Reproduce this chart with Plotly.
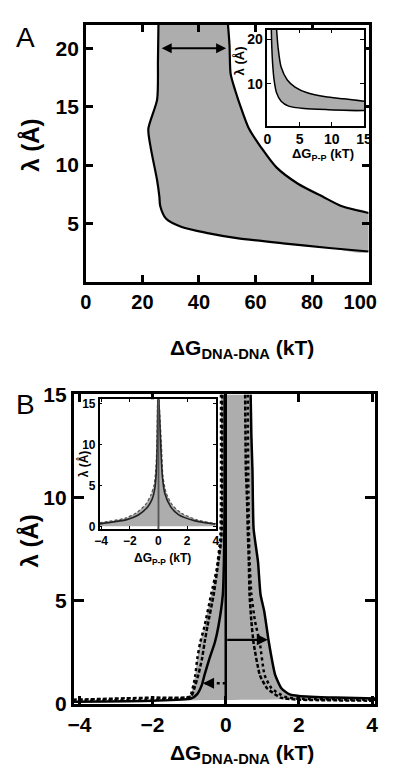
import plotly.graph_objects as go

W, H = 411, 783          # browser window
PAD = 8                  # default body margin of the page
FW, FH = W - 2 * PAD - 2, H - 2 * PAD - 2   # keep the page strictly inside the window
FONT = "Liberation Sans"

# ---------------- Panel A (main): boundaries of the gray region ----------------
a_left_dg = [25.7, 25.5, 25.2, 22.1, 23.0, 25.2, 26.0, 26.3, 28.4, 33.9, 42.6, 53.4, 69.7, 86.0, 100.0]
a_left_lam = [22.5, 19.0, 15.6, 13.1, 11.4, 8.7, 7.3, 6.5, 5.4, 4.7, 4.2, 3.75, 3.3, 2.9, 2.6]
a_right_dg = [50.1, 50.8, 51.2, 52.8, 55.0, 57.7, 62.0, 67.4, 75.0, 83.7, 90.3, 100.0]
a_right_lam = [22.5, 20.3, 17.8, 16.4, 14.8, 13.1, 11.5, 9.8, 8.4, 7.3, 6.5, 5.9]
a_arrow_lam = 20.0
a_arrow_dg = [26.3, 49.6]
a_xticks = [0, 20, 40, 60, 80, 100]
a_xticktext = ["0", "20", "40", "60", "80", "100\u00a0\u00a0\u00a0"]

# ---------------- Panel A (inset) ----------------
ai_upper_dg = [1.43, 1.67, 2.14, 3.1, 4.3, 6.2, 9.05, 11.9, 15.0]
ai_upper_lam = [22.5, 18.2, 13.8, 10.9, 9.3, 8.0, 7.1, 6.65, 6.1]
ai_lower_dg = [0.62, 0.7, 0.86, 1.05, 1.43, 2.14, 3.3, 5.7, 9.5, 15.0]
ai_lower_lam = [22.5, 18.2, 13.8, 10.9, 8.0, 6.1, 5.0, 4.46, 4.2, 4.0]

# ---------------- Panel B (main) ----------------
b_lsolid_dg = [-0.03, -0.03, -0.05, -0.08, -0.2, -0.3, -0.45, -0.58, -0.65, -0.78, -0.95, -2.0, -4.15]
b_lsolid_lam = [15.0, 10.0, 6.9, 5.3, 3.76, 2.96, 2.17, 1.4, 0.93, 0.47, 0.25, 0.15, 0.1]
b_ldash_dg = [-0.1, -0.1, -0.12, -0.2, -0.33, -0.5, -0.58, -0.65, -0.75, -0.85, -0.95, -2.0, -4.15]
b_ldash_lam = [15.0, 10.0, 8.0, 6.9, 5.3, 3.76, 2.96, 2.17, 1.4, 0.8, 0.35, 0.3, 0.2]
b_ldot_dg = [-0.13, -0.13, -0.15, -0.25, -0.4, -0.58, -0.7, -0.78, -0.83, -0.88, -0.95, -1.05, -2.0, -4.15]
b_ldot_lam = [15.0, 10.0, 8.0, 6.5, 5.3, 3.76, 2.96, 2.17, 1.4, 0.93, 0.47, 0.3, 0.2, 0.15]
b_rsolid_dg = [0.68, 0.7, 0.73, 0.76, 0.88, 0.95, 1.05, 1.18, 1.35, 1.52, 1.73, 2.0, 3.0, 4.2]
b_rsolid_lam = [15.0, 13.0, 11.3, 8.5, 6.9, 5.3, 4.5, 2.96, 1.4, 0.75, 0.47, 0.38, 0.3, 0.25]
b_rdash_dg = [0.53, 0.55, 0.58, 0.6, 0.63, 0.65, 0.7, 0.76, 0.93, 1.13, 1.5, 2.0, 4.2]
b_rdash_lam = [15.0, 11.3, 10.0, 8.5, 6.9, 5.3, 4.0, 2.96, 1.4, 0.75, 0.3, 0.2, 0.15]
b_rdot_dg = [0.6, 0.62, 0.65, 0.7, 0.8, 0.93, 1.06, 1.25, 1.6, 2.0, 4.2]
b_rdot_lam = [15.0, 10.0, 7.0, 5.3, 4.0, 2.96, 1.4, 0.75, 0.35, 0.25, 0.2]
b_arrow_solid = {"lam": 3.1, "dg": [0.0, 1.15]}
b_arrow_dot = {"lam": 1.0, "dg": [0.0, -0.62]}

# ---------------- Panel B (inset) ----------------
bi_lsolid_dg = [-4.1, -3.76, -2.26, -1.4, -0.75, -0.43, -0.26, -0.15, -0.08, -0.045, -0.03]
bi_lsolid_lam = [0.3, 0.39, 0.79, 1.38, 2.37, 3.35, 4.5, 6.5, 10.0, 14.8, 15.5]
bi_ldash_dg = [-4.1, -3.7, -2.3, -1.5, -0.88, -0.53, -0.31, -0.18, -0.11, -0.06]
bi_ldash_lam = [0.45, 0.55, 1.0, 1.7, 2.7, 3.8, 5.0, 7.0, 10.0, 15.5]
bi_rsolid_dg = [0.03, 0.16, 0.27, 0.45, 0.85, 1.42, 2.5, 3.75, 4.0]
bi_rsolid_lam = [15.5, 10.0, 6.2, 4.0, 2.4, 1.4, 0.7, 0.33, 0.3]
bi_rdash_dg = [0.04, 0.21, 0.32, 0.54, 0.97, 1.61, 2.69, 3.76, 4.0]
bi_rdash_lam = [15.5, 10.0, 6.1, 4.1, 2.6, 1.6, 0.8, 0.4, 0.35]

GRAY = "#ADADAD"
SM = 0.7

fig = go.Figure()

# ---- Panel A main ----
fig.add_trace(go.Scatter(x=a_left_dg + a_right_dg[::-1], y=a_left_lam + a_right_lam[::-1],
                         fill="toself", fillcolor=GRAY, line=dict(width=0, shape="spline", smoothing=SM),
                         mode="lines", xaxis="x", yaxis="y", hoverinfo="skip"))
for xs, ys in [(a_left_dg, a_left_lam), (a_right_dg, a_right_lam)]:
    fig.add_trace(go.Scatter(x=xs, y=ys, mode="lines",
                             line=dict(color="black", width=2.2, shape="spline", smoothing=SM),
                             xaxis="x", yaxis="y"))

# ---- Panel A inset ----
fig.add_trace(go.Scatter(x=ai_lower_dg + ai_upper_dg[::-1], y=ai_lower_lam + ai_upper_lam[::-1],
                         fill="toself", fillcolor=GRAY, line=dict(width=0, shape="spline", smoothing=SM),
                         mode="lines", xaxis="x2", yaxis="y2", hoverinfo="skip"))
for xs, ys in [(ai_lower_dg, ai_lower_lam), (ai_upper_dg, ai_upper_lam)]:
    fig.add_trace(go.Scatter(x=xs, y=ys, mode="lines",
                             line=dict(color="black", width=1.5, shape="spline", smoothing=SM),
                             xaxis="x2", yaxis="y2"))

# ---- Panel B main ----
fig.add_trace(go.Scatter(x=b_ldot_dg + b_rsolid_dg[::-1], y=b_ldot_lam + b_rsolid_lam[::-1],
                         fill="toself", fillcolor=GRAY, line=dict(width=0, shape="spline", smoothing=0.5),
                         mode="lines", xaxis="x3", yaxis="y3", hoverinfo="skip"))
b_styles = [
    (b_lsolid_dg, b_lsolid_lam, "solid"),
    (b_ldash_dg, b_ldash_lam, "4px,2px"),
    (b_ldot_dg, b_ldot_lam, "dot"),
    (b_rsolid_dg, b_rsolid_lam, "solid"),
    (b_rdash_dg, b_rdash_lam, "4px,2px"),
    (b_rdot_dg, b_rdot_lam, "dot"),
]
for xs, ys, dash in b_styles:
    fig.add_trace(go.Scatter(x=xs, y=ys, mode="lines",
                             line=dict(color="black", width=2.5, dash=dash, shape="spline", smoothing=0.5),
                             xaxis="x3", yaxis="y3"))
# dotted guide line (arrow shaft)
fig.add_trace(go.Scatter(x=b_arrow_dot["dg"], y=[b_arrow_dot["lam"]] * 2, mode="lines",
                         line=dict(color="black", width=2.5, dash="dot"), xaxis="x3", yaxis="y3"))

# ---- Panel B inset ----
fig.add_trace(go.Scatter(x=bi_ldash_dg, y=bi_ldash_lam, fill="tozeroy", fillcolor=GRAY,
                         mode="lines", line=dict(color="#555555", width=1.2, dash="3px,2px",
                                                 shape="spline", smoothing=SM),
                         xaxis="x4", yaxis="y4"))
fig.add_trace(go.Scatter(x=bi_rdash_dg, y=bi_rdash_lam, fill="tozeroy", fillcolor=GRAY,
                         mode="lines", line=dict(color="#555555", width=1.2, dash="3px,2px",
                                                 shape="spline", smoothing=SM),
                         xaxis="x4", yaxis="y4"))
fig.add_trace(go.Scatter(x=bi_lsolid_dg, y=bi_lsolid_lam, mode="lines",
                         line=dict(color="#222222", width=1.6, shape="spline", smoothing=SM),
                         xaxis="x4", yaxis="y4"))
fig.add_trace(go.Scatter(x=bi_rsolid_dg, y=bi_rsolid_lam, mode="lines",
                         line=dict(color="#222222", width=1.6, shape="spline", smoothing=SM),
                         xaxis="x4", yaxis="y4"))

# ---------------- axes (positions given in window pixels) ----------------
def px_x(p):
    return min(1.0, max(0.0, (p - PAD) / FW))

def px_y(p):
    return min(1.0, max(0.0, 1 - (p - PAD) / FH))

def ax(domain, rng, tickvals, size, lw, tl, tw, anchor, **kw):
    d = dict(domain=domain, range=rng, tickvals=tickvals, ticks="inside", ticklen=tl, tickwidth=tw,
             tickcolor="black", showline=True, linewidth=lw, linecolor="black", mirror="ticks",
             showgrid=False, zeroline=False, anchor=anchor, ticklabeloverflow="allow",
             tickfont=dict(family=FONT, size=size, color="black", weight="bold"))
    d.update(kw)
    return d

fig.update_layout(
    width=FW, height=FH, margin=dict(l=0, r=0, t=0, b=0),
    paper_bgcolor="white", plot_bgcolor="white", showlegend=False,
    xaxis=ax([px_x(86), px_x(393)], [0, 100], a_xticks, 20, 2.5, 7, 2.5, "y", ticktext=a_xticktext),
    yaxis=ax([px_y(278), px_y(13)], [0, 22], [5, 10, 15, 20], 21, 2.5, 7, 2.5, "x"),
    xaxis2=ax([px_x(283), px_x(388)], [0, 15], [0, 5, 10, 15], 14, 1.5, 4, 1.2, "y2"),
    yaxis2=ax([px_y(117), px_y(18)], [0.6, 22.2], [10, 20], 14, 1.5, 4, 1.2, "x2"),
    xaxis3=ax([px_x(73), px_x(400)], [-4.15, 4.08], [-4, -2, 0, 2, 4], 21, 3, 8, 3, "y3"),
    yaxis3=ax([px_y(713), px_y(394)], [0, 15], [0, 5, 10, 15], 21, 3, 10, 3, "x3"),
    xaxis4=ax([px_x(101), px_x(227)], [-4.1, 4.0], [-4, -2, 0, 2, 4], 12, 1.5, 3, 1.2, "y4"),
    yaxis4=ax([px_y(533), px_y(399)], [-0.35, 15.5], [0, 5, 10, 15], 12, 1.5, 3, 1.2, "x4"),
)

# reference lines at ΔG = 0
fig.add_shape(type="line", xref="x3", yref="y3 domain", x0=0, x1=0, y0=0, y1=1,
              line=dict(color="black", width=2.5))
fig.add_shape(type="line", xref="x4", yref="y4 domain", x0=0, x1=0, y0=0, y1=1,
              line=dict(color="#555555", width=2))

# arrows
fig.add_annotation(xref="x", yref="y", axref="x", ayref="y",
                   x=a_arrow_dg[1], y=a_arrow_lam, ax=a_arrow_dg[0], ay=a_arrow_lam,
                   showarrow=True, arrowhead=2, arrowside="end+start", arrowsize=1, arrowwidth=2,
                   arrowcolor="black", text="")
fig.add_annotation(xref="x3", yref="y3", axref="x3", ayref="y3",
                   x=b_arrow_solid["dg"][1], y=b_arrow_solid["lam"],
                   ax=b_arrow_solid["dg"][0], ay=b_arrow_solid["lam"],
                   showarrow=True, arrowhead=2, arrowsize=1, arrowwidth=2.2, arrowcolor="black", text="")
fig.add_annotation(xref="x3", yref="y3", axref="x3", ayref="y3",
                   x=b_arrow_dot["dg"][1], y=b_arrow_dot["lam"],
                   ax=b_arrow_dot["dg"][1] + 0.15, ay=b_arrow_dot["lam"],
                   showarrow=True, arrowhead=2, arrowsize=1, arrowwidth=2.2, arrowcolor="black", text="")

def label(text, x, y, size, angle=0, bold=True):
    fig.add_annotation(xref="paper", yref="paper", x=px_x(x), y=px_y(y), text=text, showarrow=False,
                       xanchor="center", yanchor="middle", textangle=angle,
                       font=dict(family=FONT, size=size, color="black", weight="bold" if bold else "normal"))

label("A", 21, 26, 28, bold=False)
label("B", 21, 404, 28, bold=False)
label("ΔG<sub>DNA-DNA</sub> (kT)", 255, 347, 21)
label("ΔG<sub>DNA-DNA</sub> (kT)", 255, 765, 21)
label("λ (Å)", 25, 137, 24, angle=-90)
label("λ (Å)", 25, 545, 24, angle=-90)
label("ΔG<sub>P-P</sub> (kT)", 344, 147, 13)
label("λ (Å)", 253, 50, 13, angle=-90)
label("ΔG<sub>P-P</sub> (kT)", 169, 564, 12)
label("λ (Å)", 83, 466, 12, angle=-90)

fig.write_html("out.html", config={"displayModeBar": False})
